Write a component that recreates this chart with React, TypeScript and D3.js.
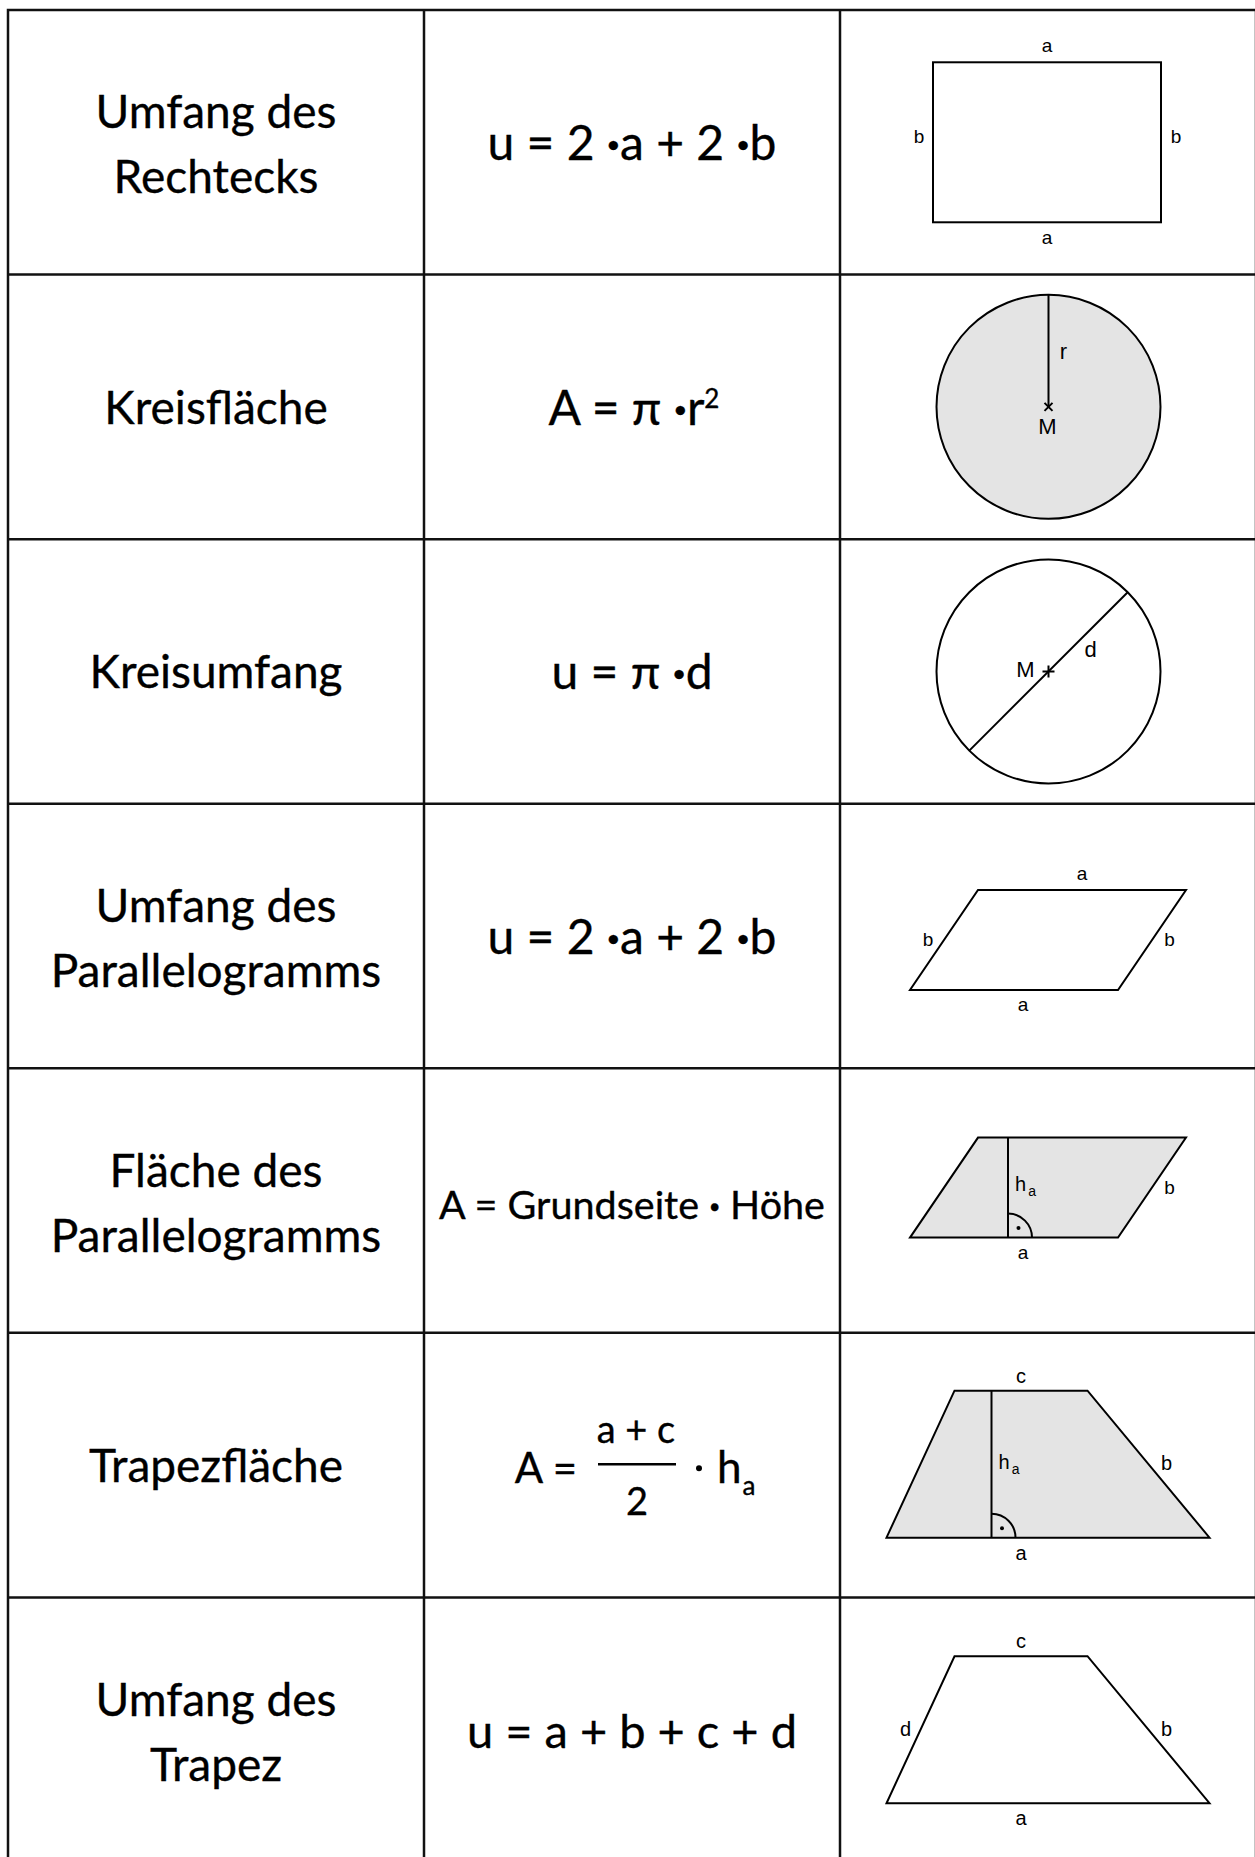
import React, { useEffect, useRef } from 'react';
import * as d3 from 'd3';

// table layout: rows from top to bottom, three columns
const rowIds = ['rechteckU', 'kreisA', 'kreisU', 'paraU', 'paraA', 'trapezA', 'trapezU'];
const columns = ['name', 'formula', 'figure'];

// left column: name of the formula (one or two lines)
const names = [
  ['Umfang des', 'Rechtecks'],
  ['Kreisfläche'],
  ['Kreisumfang'],
  ['Umfang des', 'Parallelogramms'],
  ['Fläche des', 'Parallelogramms'],
  ['Trapezfläche'],
  ['Umfang des', 'Trapez'],
];

// middle column: formula pieces [text, kind] (kind: '' | 'dot' | 'sup')
const formulas = [
  [['u = 2 ', ''], ['·', 'dot'], ['a + 2 ', ''], ['·', 'dot'], ['b', '']],
  [['A = π ', ''], ['·', 'dot'], ['r', ''], ['2', 'sup']],
  [['u = π ', ''], ['·', 'dot'], ['d', '']],
  [['u = 2 ', ''], ['·', 'dot'], ['a + 2 ', ''], ['·', 'dot'], ['b', '']],
  [['A = Grundseite ', ''], ['·', 'dot'], [' Höhe', '']],
  null,
  [['u = a + b + c + d', '']],
];
// trapezoid area formula is a fraction
const fraction = { left: 'A =', numerator: 'a + c', denominator: '2', factor: 'h', sub: 'a' };

// right column: figure kinds and their side lengths
const figures = ['rect', 'circleArea', 'circleDiameter', 'paraPerimeter', 'paraArea', 'trapezArea', 'trapezPerimeter'];
const rectSides = { a: 228, b: 160 };
const circleRadius = 112;
const parallelogram = { a: 208, shift: 68, h: 100, foot: 98 };
const trapezoid = { a: 323, c: 133, shift: 68, h: 147, foot: 105 };

const textFont = 'Lato, "Open Sans", sans-serif';
const labelFont = '"Liberation Sans", Arial, sans-serif';
const fillGray = '#e4e4e4';

const App = () => {
  const svgRef = useRef<SVGSVGElement>(null);

  useEffect(() => {
    const width = 1255;
    const height = 1857;
    const svg = d3.select(svgRef.current);
    svg.selectAll('*').remove();

    const x = d3.scaleBand().domain(columns).range([8, 1256]);
    const y = d3.scaleBand().domain(rowIds).range([10, 1862]);
    const colCenter = (c: string) => (x(c) as number) + x.bandwidth() / 2;
    const rowCenter = (i: number) => (y(rowIds[i]) as number) + y.bandwidth() / 2;

    svg.append('rect').attr('width', width).attr('height', height).attr('fill', '#fff');

    // grid
    const grid = svg.append('g').attr('stroke', '#111').attr('stroke-width', 2.5).attr('fill', 'none');
    grid.append('rect')
      .attr('x', x.range()[0]).attr('y', y.range()[0])
      .attr('width', x.range()[1] - x.range()[0])
      .attr('height', y.range()[1] - y.range()[0]);
    grid.selectAll('line.v').data(columns.slice(1)).join('line')
      .attr('class', 'v')
      .attr('x1', (d) => x(d) as number).attr('x2', (d) => x(d) as number)
      .attr('y1', y.range()[0]).attr('y2', y.range()[1]);
    grid.selectAll('line.h').data(rowIds.slice(1)).join('line')
      .attr('class', 'h')
      .attr('y1', (d) => y(d) as number).attr('y2', (d) => y(d) as number)
      .attr('x1', x.range()[0]).attr('x2', x.range()[1]);

    // names
    names.forEach((lines, i) => {
      const t = svg.append('text')
        .attr('text-anchor', 'middle')
        .attr('font-family', textFont)
        .attr('font-size', 46)
        .attr('fill', '#000')
        .attr('stroke', '#000')
        .attr('stroke-width', 0.35);
      const base = lines.length === 2 ? rowCenter(i) - 14 : rowCenter(i) + 17;
      lines.forEach((l, j) => {
        t.append('tspan').attr('x', colCenter('name')).attr('y', base + j * 65).text(l);
      });
    });

    // formulas
    const fx = colCenter('formula');
    formulas.forEach((pieces, i) => {
      if (!pieces) return;
      const t = svg.append('text')
        .attr('x', fx + (i === 1 ? 2 : 0))
        .attr('y', rowCenter(i) + 18)
        .attr('text-anchor', 'middle')
        .attr('font-family', textFont)
        .attr('font-size', i === 4 ? 39.5 : i === 6 ? 47 : 48)
        .attr('fill', '#000')
        .attr('stroke', '#000')
        .attr('stroke-width', 0.35);
      pieces.forEach(([txt, kind]) => {
        const s = t.append('tspan').text(txt);
        if (kind === 'sup') s.attr('font-size', 26).attr('dy', -17);
        if (kind === 'dot') s.attr('font-weight', 'bold');
      });
    });

    // fraction formula (trapezoid area)
    {
      const i = 5;
      const cy = rowCenter(i);
      const g = svg.append('g').attr('font-family', textFont).attr('fill', '#000')
        .attr('stroke', '#000').attr('stroke-width', 0.35);
      g.append('text').attr('x', fx - 55).attr('y', cy + 18).attr('text-anchor', 'end')
        .attr('font-size', 42).text(fraction.left);
      g.append('line').attr('x1', fx - 34).attr('x2', fx + 44).attr('y1', cy - 1).attr('y2', cy - 1)
        .attr('stroke', '#000').attr('stroke-width', 2.5);
      g.append('text').attr('x', fx + 4).attr('y', cy - 22).attr('text-anchor', 'middle')
        .attr('font-size', 38).text(fraction.numerator);
      g.append('text').attr('x', fx + 5).attr('y', cy + 50).attr('text-anchor', 'middle')
        .attr('font-size', 38).text(fraction.denominator);
      g.append('circle').attr('cx', fx + 67).attr('cy', cy + 3).attr('r', 3).attr('stroke', 'none');
      const t = g.append('text').attr('x', fx + 85).attr('y', cy + 18).attr('font-size', 44);
      t.append('tspan').text(fraction.factor);
      t.append('tspan').attr('font-size', 26).attr('dx', 1).attr('dy', 12).text(fraction.sub);
    }

    // figures
    const line = d3.line();
    const gx = colCenter('figure');
    const label = (g: any, txt: string, lx: number, ly: number, size: number, anchor = 'middle') =>
      g.append('text').attr('x', lx).attr('y', ly).attr('text-anchor', anchor)
        .attr('font-family', labelFont).attr('font-size', size).attr('fill', '#000').text(txt);
    const rightAngle = (g: any, hx: number, by: number) => {
      const r = 24;
      g.append('path').attr('d', `M${hx},${by - r}A${r},${r} 0 0 1 ${hx + r},${by}`)
        .attr('fill', 'none').attr('stroke', '#000').attr('stroke-width', 2);
      g.append('circle').attr('cx', hx + 10.5).attr('cy', by - 9.5).attr('r', 2).attr('fill', '#000');
    };

    figures.forEach((kind, i) => {
      const cy = rowCenter(i);
      const g = svg.append('g');

      if (kind === 'rect') {
        const { a, b } = rectSides;
        const x0 = gx - 1 - a / 2;
        const y0 = cy - b / 2;
        g.append('rect').attr('x', x0).attr('y', y0).attr('width', a).attr('height', b)
          .attr('fill', 'none').attr('stroke', '#000').attr('stroke-width', 2);
        label(g, 'a', x0 + a / 2, y0 - 10, 19);
        label(g, 'a', x0 + a / 2, y0 + b + 22, 19);
        label(g, 'b', x0 - 14, cy + 1, 19);
        label(g, 'b', x0 + a + 15, cy + 1, 19);
      }

      if (kind === 'circleArea' || kind === 'circleDiameter') {
        const r = circleRadius;
        const ccx = gx + 0.5;
        g.append('circle').attr('cx', ccx).attr('cy', cy).attr('r', r)
          .attr('fill', kind === 'circleArea' ? fillGray : 'none')
          .attr('stroke', '#000').attr('stroke-width', 2);
        if (kind === 'circleArea') {
          g.append('path').attr('d', line([[ccx, cy - r], [ccx, cy]]))
            .attr('stroke', '#000').attr('stroke-width', 2);
          g.append('path').attr('d', `M${ccx - 4},${cy - 4}L${ccx + 4},${cy + 4}M${ccx - 4},${cy + 4}L${ccx + 4},${cy - 4}`)
            .attr('stroke', '#000').attr('stroke-width', 2);
          label(g, 'r', ccx + 15, cy - r / 2 + 8, 22);
          label(g, 'M', ccx - 1, cy + 27, 22);
        } else {
          const d = r * Math.SQRT1_2;
          g.append('path').attr('d', line([[ccx - d, cy + d], [ccx + d, cy - d]]))
            .attr('stroke', '#000').attr('stroke-width', 2);
          g.append('path').attr('d', `M${ccx - 6},${cy}L${ccx + 6},${cy}M${ccx},${cy - 6}L${ccx},${cy + 6}`)
            .attr('stroke', '#000').attr('stroke-width', 2);
          label(g, 'M', ccx - 23, cy + 6, 22);
          label(g, 'd', ccx + 42, cy - 14, 22);
        }
      }

      if (kind === 'paraPerimeter' || kind === 'paraArea') {
        const { a, shift, h, foot } = parallelogram;
        const bx = gx - (a + shift) / 2;
        const by = cy + h / 2 + (kind === 'paraPerimeter' ? 4 : -13);
        const pts: [number, number][] = [[bx, by], [bx + a, by], [bx + a + shift, by - h], [bx + shift, by - h]];
        g.append('path').attr('d', line(pts) + 'Z')
          .attr('fill', kind === 'paraArea' ? fillGray : 'none')
          .attr('stroke', '#000').attr('stroke-width', 2).attr('stroke-linejoin', 'miter');
        const rightMid = [bx + a + shift / 2, by - h / 2];
        const leftMid = [bx + shift / 2, by - h / 2];
        label(g, 'a', bx + a / 2 + 9, by + 21, 19);
        label(g, 'b', rightMid[0] + 17.5, rightMid[1] + 6, 19);
        if (kind === 'paraPerimeter') {
          label(g, 'a', bx + shift + a / 2, by - h - 10, 19);
          label(g, 'b', leftMid[0] - 16, leftMid[1] + 6, 19);
        } else {
          const hx = bx + foot;
          g.append('path').attr('d', line([[hx, by - h], [hx, by]]))
            .attr('stroke', '#000').attr('stroke-width', 2);
          rightAngle(g, hx, by);
          const t = label(g, 'h', hx + 7, by - h / 2 + 3, 20, 'start');
          t.append('tspan').attr('font-size', 14).attr('dx', 2).attr('dy', 5).text('a');
        }
      }

      if (kind === 'trapezArea' || kind === 'trapezPerimeter') {
        const { a, c, shift, h, foot } = trapezoid;
        const bx = gx - a / 2;
        const by = cy + h / 2 + (kind === 'trapezArea' ? -1 : 0);
        const pts: [number, number][] = [[bx, by], [bx + a, by], [bx + shift + c, by - h], [bx + shift, by - h]];
        g.append('path').attr('d', line(pts) + 'Z')
          .attr('fill', kind === 'trapezArea' ? fillGray : 'none')
          .attr('stroke', '#000').attr('stroke-width', 2);
        const rightMid = [bx + (a + shift + c) / 2, by - h / 2];
        const leftMid = [bx + shift / 2, by - h / 2];
        label(g, 'c', bx + shift + c / 2, by - h - 8, 20);
        label(g, 'a', bx + a / 2 - 27, by + 22, 20);
        label(g, 'b', rightMid[0] + 18, rightMid[1] + 6, 20);
        if (kind === 'trapezPerimeter') {
          label(g, 'd', leftMid[0] - 15, leftMid[1] + 6, 20);
        } else {
          const hx = bx + foot;
          g.append('path').attr('d', line([[hx, by - h], [hx, by]]))
            .attr('stroke', '#000').attr('stroke-width', 2);
          rightAngle(g, hx, by);
          const t = label(g, 'h', hx + 7, by - h / 2 + 5, 20, 'start');
          t.append('tspan').attr('font-size', 14).attr('dx', 2).attr('dy', 5).text('a');
        }
      }
    });
  }, []);

  return (
    <svg
      ref={svgRef}
      width={1255}
      height={1857}
      style={{ position: 'absolute', left: 0, top: 0, display: 'block' }}
    />
  );
};

export default App;
